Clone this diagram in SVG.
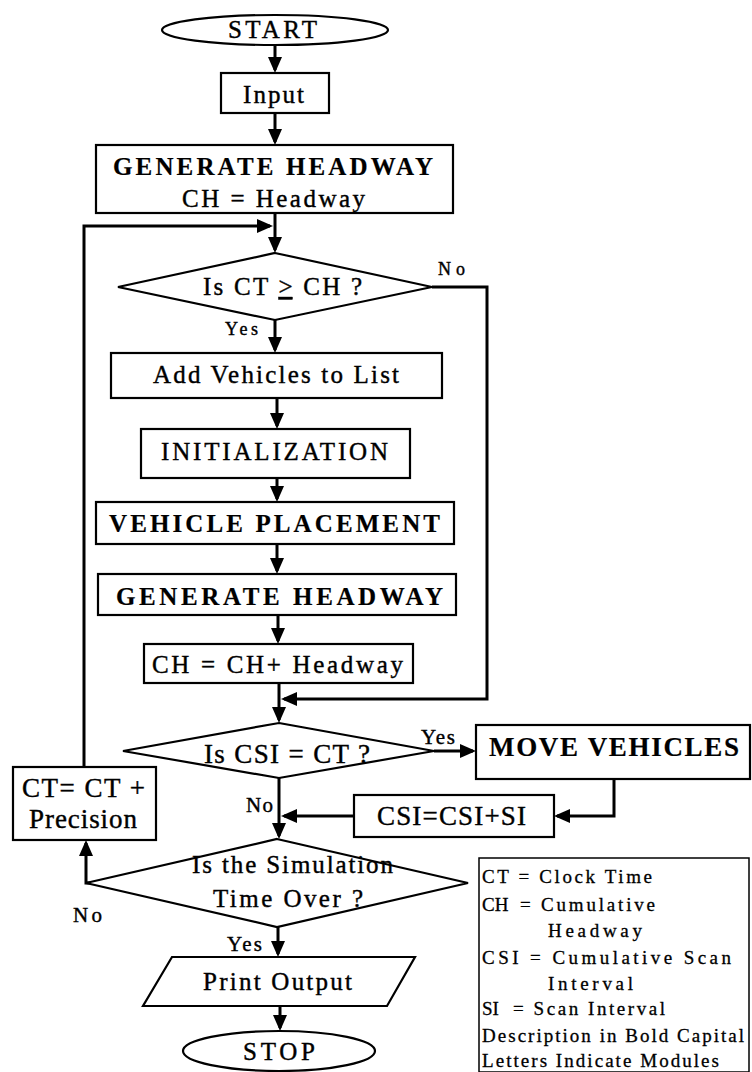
<svg xmlns="http://www.w3.org/2000/svg" width="752" height="1072" viewBox="0 0 752 1072">
<defs>
<style>
.shape{fill:#fff;stroke:#000;stroke-width:2.2}
.conn{fill:none;stroke:#000;stroke-width:3;marker-end:url(#ah)}
.t{font-family:"Liberation Serif","Times New Roman",serif;font-size:25px;fill:#000;stroke:#000;stroke-width:0.4}
.b{font-weight:bold;stroke-width:0.2}
.s{font-size:18px}
.m{font-size:21px}
.c{font-size:27px}
.lg{font-size:19px;stroke-width:0.3}
</style>
<marker id="ah" markerWidth="16" markerHeight="14" refX="13" refY="7" orient="auto" markerUnits="userSpaceOnUse">
<path d="M0,0 L16,7 L0,14 z" fill="#000"/>
</marker>
</defs>
<rect width="752" height="1072" fill="#fff"/>

<g id="connectors">
<path class="conn" d="M275,45 V70"/>
<path class="conn" d="M275,113 V142"/>
<path class="conn" d="M275,213 V250"/>
<path class="conn" d="M84,767 V226 H270"/>
<path class="conn" d="M275,320 V350"/>
<path class="conn" d="M277,398 V426"/>
<path class="conn" d="M277,478 V499"/>
<path class="conn" d="M277,544 V571"/>
<path class="conn" d="M278,615 V641"/>
<path class="conn" d="M279,683 V720"/>
<path class="conn" d="M432,287 H487 V699 H284"/>
<path class="conn" d="M434,751 H473"/>
<path class="conn" d="M614,779 V816 H557"/>
<path class="conn" d="M354,816 H284"/>
<path class="conn" d="M279,778 V836"/>
<path class="conn" d="M92,883 H86 V843"/>
<path class="conn" d="M278,927 V954"/>
<path class="conn" d="M280,1006 V1028"/>
<text class="t s" x="438" y="275" textLength="27">No</text>
<text class="t s" x="225" y="335" textLength="33">Yes</text>
<text class="t m" x="421" y="744" textLength="34">Yes</text>
<text class="t m" x="246" y="812" textLength="27">No</text>
<text class="t m" x="73" y="922" textLength="29">No</text>
<text class="t m" x="227" y="951" textLength="35">Yes</text>
</g>

<g id="start">
<ellipse class="shape" cx="275" cy="30" rx="113" ry="15"/>
<text class="t" x="228" y="38" textLength="89">START</text>
</g>

<g id="input">
<rect class="shape" x="221" y="73" width="108" height="40"/>
<text class="t" x="243" y="103" textLength="61">Input</text>
</g>

<g id="generate1">
<rect class="shape" x="96" y="145" width="357" height="68"/>
<text class="t b" x="113" y="175" textLength="320">GENERATE HEADWAY</text>
<text class="t" x="182" y="207" textLength="183">CH = Headway</text>
</g>

<g id="decision1">
<polygon class="shape" points="275,253 432,287 275,320 118,287"/>
<text class="t" x="203" y="295" textLength="159">Is CT <tspan text-decoration="underline">&gt;</tspan> CH ?</text>
</g>

<g id="addvehicles">
<rect class="shape" x="111" y="353" width="331" height="45"/>
<text class="t" x="153" y="383" textLength="246">Add Vehicles to List</text>
</g>

<g id="initialization">
<rect class="shape" x="141" y="429" width="269" height="49"/>
<text class="t" x="161" y="460" textLength="227">INITIALIZATION</text>
</g>

<g id="placement">
<rect class="shape" x="96" y="502" width="358" height="42"/>
<text class="t b" x="109" y="532" textLength="331">VEHICLE PLACEMENT</text>
</g>

<g id="generate2">
<rect class="shape" x="98" y="574" width="358" height="41"/>
<text class="t b" x="116" y="605" textLength="327">GENERATE HEADWAY</text>
</g>

<g id="chupdate">
<rect class="shape" x="144" y="644" width="269" height="39"/>
<text class="t" x="152" y="673" textLength="251">CH = CH+ Headway</text>
</g>

<g id="decision2">
<polygon class="shape" points="279,723 434,751 279,778 123,751"/>
<text class="t c" x="204" y="763" textLength="166">Is CSI = CT ?</text>
</g>

<g id="movevehicles">
<rect class="shape" x="476" y="725" width="274" height="54"/>
<text class="t b c" x="489" y="756" textLength="250">MOVE VEHICLES</text>
</g>

<g id="csiupdate">
<rect class="shape" x="354" y="795" width="200" height="42"/>
<text class="t c" x="377" y="825" textLength="149">CSI=CSI+SI</text>
</g>

<g id="ctupdate">
<rect class="shape" x="13" y="767" width="143" height="73"/>
<text class="t c" x="22" y="797" textLength="123">CT= CT +</text>
<text class="t c" x="29" y="828" textLength="108">Precision</text>
</g>

<g id="decision3">
<polygon class="shape" points="277,839 468,883 277,927 86,883"/>
<text class="t" x="192" y="873" textLength="201">Is the Simulation</text>
<text class="t" x="213" y="907" textLength="150">Time Over ?</text>
</g>

<g id="printoutput">
<polygon class="shape" points="172,957 415,957 387,1006 143,1006"/>
<text class="t" x="203" y="990" textLength="149">Print Output</text>
</g>

<g id="stop">
<ellipse class="shape" cx="279" cy="1051" rx="96" ry="20"/>
<text class="t" x="243" y="1060" textLength="72">STOP</text>
</g>

<g id="legend">
<rect x="479" y="858" width="270" height="214" fill="#fff" stroke="#000" stroke-width="1.5"/>
<text class="t lg" x="482" y="883" textLength="170">CT = Clock Time</text>
<text class="t lg" x="482" y="911">CH</text>
<text class="t lg" x="520" y="911" textLength="135">= Cumulative</text>
<text class="t lg" x="548" y="937" textLength="94">Headway</text>
<text class="t lg" x="482" y="964" textLength="249">CSI = Cumulative Scan</text>
<text class="t lg" x="548" y="990" textLength="85">Interval</text>
<text class="t lg" x="482" y="1015">SI</text>
<text class="t lg" x="513" y="1015" textLength="152">= Scan Interval</text>
<text class="t lg" x="482" y="1042" textLength="262">Description in Bold Capital</text>
<text class="t lg" x="482" y="1067" textLength="237">Letters Indicate Modules</text>
</g>
</svg>
